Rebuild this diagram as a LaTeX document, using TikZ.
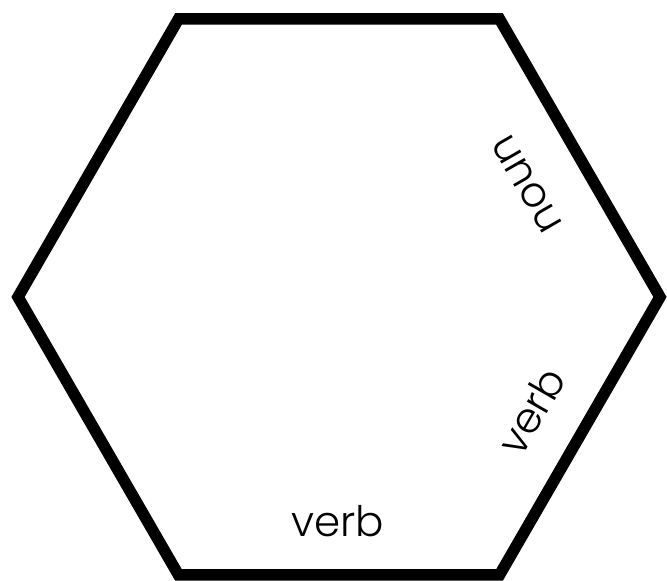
\documentclass[tikz,border=0pt]{standalone}
\usepackage{fontspec}
\setmainfont{Poppins Light}
\usetikzlibrary{calc}
\begin{document}
\begin{tikzpicture}[x=1pt,y=1pt,
  edge/.style={line width=11.5pt,line join=miter,black},
  lab/.style={font=\fontsize{42}{50}\selectfont,inner sep=0pt}]
\useasboundingbox (0,0) rectangle (667,581);
\coordinate (c) at (339,284);
\foreach \i in {0,...,5}{\coordinate (v\i) at ($(c)+(\i*60:321)$);}
\draw[edge] (v0)--(v1)--(v2)--(v3)--(v4)--(v5)--cycle;
\node[lab,rotate=120] (noun) at (527,397) {noun};
\node[lab,rotate=60] (verb1) at (531,170) {verb};
\node[lab] (verb2) at (338,60) {verb};
\end{tikzpicture}
\end{document}
